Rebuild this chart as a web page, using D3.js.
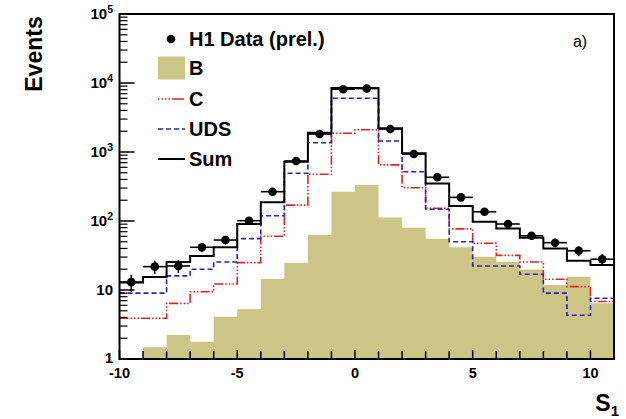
<!DOCTYPE html>
<html><head><meta charset="utf-8">
<script src="https://cdn.jsdelivr.net/npm/d3@7/dist/d3.min.js"></script>
<style>body{margin:0;background:#fff}svg{display:block}</style>
</head><body>
<svg id="c" width="626" height="419"></svg>
<script>
// bin lower edges (bin width 1)
const binLo = [-10,-9,-8,-7,-6,-5,-4,-3,-2,-1,0,1,2,3,4,5,6,7,8,9,10];
const dataVals = [13, 21.8, 22.3, 41.6, 53, 101, 266, 740, 1820, 8130, 8300, 2150, 935, 430, 220, 136, 90.5, 61, 48.5, 37, 27.9];
const sumVals  = [12.8, 15.4, 25.5, 31, 41.6, 90.5, 187, 724, 1900, 8470, 8470, 2200, 957, 350, 165, 97.7, 78, 57, 40, 26.6, 23];
const udsVals  = [9, 9, 16, 20, 25.5, 55.5, 119, 492, 1365, 6000, 6000, 1445, 518, 148, 50, 22.3, 22.3, 16.9, 9, 4.3, 7.6];
const cVals    = [3.9, 3.9, 6.4, 9.45, 12.2, 24.9, 60, 170, 475, 1870, 2100, 650, 304, 153, 77, 47.5, 31.8, 25.5, 14.3, 11.2, 6.8];
const bVals    = [0, 1.48, 2.23, 1.78, 4.1, 5.25, 14.4, 24.9, 62.7, 266, 332, 112, 80, 55.4, 41.6, 30.4, 25.7, 19.9, 11.8, 15.6, 6.4];
const xTicks = [-10,-5,0,5,10];
const yDecades = [1,10,100,1000,10000,100000];
const yLabels = [["1",""],["10",""],["10","2"],["10","3"],["10","4"],["10","5"]];
const legendItems = ["H1 Data (prel.)","B","C","UDS","Sum"];

const svg = d3.select("#c");
const L=119.5, R=614, T=14, B=359;
const x = d3.scaleLinear().domain([-10,11]).range([L,R]);
const y = d3.scaleLog().domain([1,1e5]).range([B,T]);
const F = "'Liberation Sans', Arial, Helvetica, sans-serif";

const colB = "#cdc585", colC = "#e02424", colU = "#2626b4";

// B filled histogram as one path
(function(){
  let p = "M"+x(binLo[0])+","+B;
  binLo.forEach((lo,i)=>{
    const v=bVals[i], yy = v>1 ? y(v) : B;
    p += "L"+x(lo)+","+yy+"L"+x(lo+1)+","+yy;
  });
  p += "L"+x(binLo[binLo.length-1]+1)+","+B+"Z";
  svg.append("path").attr("d",p).attr("fill",colB);
})();

function stepPath(vals){
  let p="";
  binLo.forEach((lo,i)=>{
    const yy=y(vals[i]);
    p += (i===0?"M":"L")+x(lo)+","+yy+"L"+x(lo+1)+","+yy;
  });
  return p;
}
svg.append("path").attr("d",stepPath(cVals)).attr("fill","none")
  .attr("stroke",colC).attr("stroke-width",1.6).attr("stroke-dasharray","9,2,1.5,2,1.5,2,1.5,2");
svg.append("path").attr("d",stepPath(udsVals)).attr("fill","none")
  .attr("stroke",colU).attr("stroke-width",1.6).attr("stroke-dasharray","5,3");
svg.append("path").attr("d",stepPath(sumVals)).attr("fill","none")
  .attr("stroke","#000").attr("stroke-width",2);

// data points
const pts = svg.append("g");
binLo.forEach((lo,i)=>{
  const v=dataVals[i], cx=x(lo+0.5), cy=y(v), e=Math.sqrt(v);
  pts.append("line").attr("x1",x(lo)).attr("x2",x(lo+1)).attr("y1",cy).attr("y2",cy).attr("stroke","#000").attr("stroke-width",1.6);
  pts.append("line").attr("x1",cx).attr("x2",cx).attr("y1",y(v+e)).attr("y2",y(Math.max(v-e,1.01))).attr("stroke","#000").attr("stroke-width",1.6);
  pts.append("circle").attr("cx",cx).attr("cy",cy).attr("r",4.3).attr("fill","#000");
});

// frame
svg.append("rect").attr("x",L).attr("y",T).attr("width",R-L).attr("height",B-T)
  .attr("fill","none").attr("stroke","#000").attr("stroke-width",2);

// x ticks
const xt = svg.append("g");
d3.range(-10,11+1).forEach(v=>{
  xt.append("line").attr("x1",x(v)).attr("x2",x(v)).attr("y1",B).attr("y2",B-(v%5===0?9:8)).attr("stroke","#000").attr("stroke-width",1.5);
});
xTicks.forEach(v=>{
  xt.append("text").attr("x",x(v)).attr("y",378).attr("text-anchor","middle")
    .attr("font-family",F).attr("font-weight","bold").attr("font-size",14.5).text(v);
});

// y ticks
const yt = svg.append("g");
yDecades.forEach((d,i)=>{
  yt.append("line").attr("x1",L).attr("x2",L+15).attr("y1",y(d)).attr("y2",y(d)).attr("stroke","#000").attr("stroke-width",1.5);
  if(i<yDecades.length-1){
    for(let k=2;k<=9;k++){
      yt.append("line").attr("x1",L).attr("x2",L+8).attr("y1",y(d*k)).attr("y2",y(d*k)).attr("stroke","#000").attr("stroke-width",1.2);
    }
  }
  const t = yt.append("text").attr("x",113).attr("y",y(d)+(i===0?4:5)).attr("text-anchor","end")
    .attr("font-family",F).attr("font-weight","bold").attr("font-size",15);
  t.append("tspan").text(yLabels[i][0]);
  if(yLabels[i][1]) t.append("tspan").attr("font-size",10.5).attr("dy",-6).text(yLabels[i][1]);
});

// axis titles
svg.append("text").attr("transform","translate(42,54) rotate(-90)").attr("text-anchor","middle")
  .attr("font-family",F).attr("font-weight","bold").attr("font-size",23).text("Events");
const st = svg.append("text").attr("x",619).attr("y",411).attr("text-anchor","end")
  .attr("font-family",F).attr("font-weight","bold").attr("font-size",23);
st.append("tspan").text("S");
st.append("tspan").attr("font-size",15).attr("dy",5).text("1");

svg.append("text").attr("x",580).attr("y",47).attr("text-anchor","middle")
  .attr("font-family",F).attr("font-size",16).text("a)");

// legend
const lg = svg.append("g");
const ly = [39,68,99,129,159];
legendItems.forEach((s,i)=>{
  const yy=ly[i];
  if(i===0){ lg.append("circle").attr("cx",171).attr("cy",yy).attr("r",4.3).attr("fill","#000"); }
  else if(i===1){ lg.append("rect").attr("x",158).attr("y",yy-11.5).attr("width",27).attr("height",23).attr("fill",colB); }
  else if(i===2){ lg.append("line").attr("x1",158).attr("x2",185).attr("y1",yy).attr("y2",yy).attr("stroke",colC).attr("stroke-width",1.6).attr("stroke-dasharray","1.5,2,1.5,2,1.5,2,1.5,2,12,2"); }
  else if(i===3){ lg.append("line").attr("x1",158).attr("x2",185).attr("y1",yy).attr("y2",yy).attr("stroke",colU).attr("stroke-width",1.6).attr("stroke-dasharray","5,3"); }
  else { lg.append("line").attr("x1",158).attr("x2",185).attr("y1",yy).attr("y2",yy).attr("stroke","#000").attr("stroke-width",2); }
  lg.append("text").attr("x",189).attr("y",yy+7).attr("font-family",F).attr("font-weight","bold").attr("font-size",20).text(s);
});
</script>
</body></html>
